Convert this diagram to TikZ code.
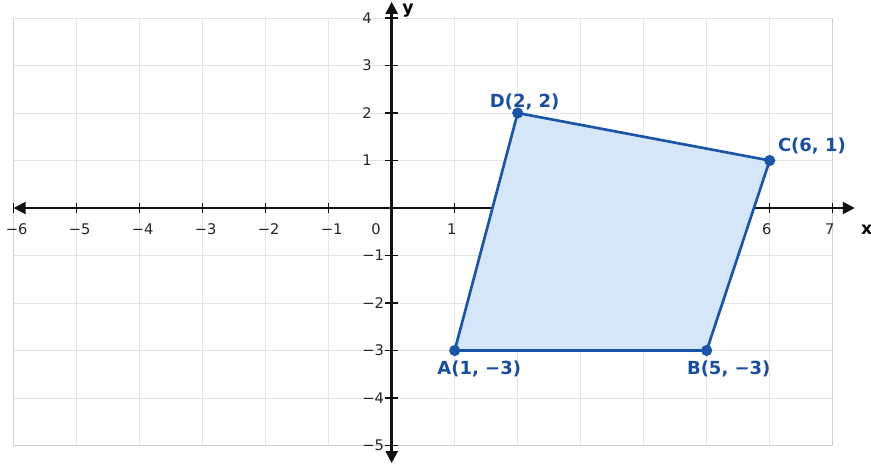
\documentclass[tikz,border=0pt]{standalone}
\usepackage{fontspec}
\setmainfont{DejaVu Sans}
\usetikzlibrary{arrows.meta}
\definecolor{cGrid}{HTML}{E4E4E4}
\definecolor{cFrame}{HTML}{D0D0D0}
\definecolor{cAxis}{HTML}{111111}
\definecolor{cEdge}{HTML}{1B55A8}
\definecolor{cFill}{HTML}{D6E6F9}
\definecolor{cText}{HTML}{1A4E9E}

\begin{document}
\begin{tikzpicture}[
  x=47.25pt,y=35.625pt,font=\fontsize{11}{13}\selectfont,
  axis/.style={line width=1.9pt,draw=cAxis,
               {Triangle[length=9pt,width=9pt]}-{Triangle[length=9pt,width=9pt]}},
  tick/.style={line width=0.9pt,draw=cAxis},
  xlbl/.style={anchor=center,inner sep=0pt,text=black!85},
  ylbl/.style={anchor=west,inner sep=0pt,text=black!85},
  axlbl/.style={inner sep=0pt,font=\fontsize{13}{15}\selectfont\bfseries},
  ptlbl/.style={inner sep=0pt,text=cText,font=\fontsize{13.5}{15}\selectfont\bfseries},
  quad/.style={draw=cEdge,fill=cFill,line width=2pt,line join=round},
  dot/.style={fill=cEdge}
]
\useasboundingbox (-6.217,-5.516) rectangle (7.608,4.379);

%======================= GRID =======================
\draw[cGrid,line width=0.7pt,step={(1,1)}] (-6,-5) grid (7,4);
\draw[cFrame,line width=0.8pt] (-6,4) -- (-6,-5) -- (7,-5) -- (7,4);

%======================= AXES =======================
\draw[axis] (-6,0) -- (7.35,0);
\draw[axis] (0,-5.37) -- (0,4.34);
\foreach \i in {-6,...,-1,1,2,...,7}
  \draw[tick] (\i,-0.11) -- (\i,0.11);
\foreach \j in {-5,...,-1,1,2,3,4}
  \draw[tick] (-0.1,\j) -- (0.1,\j);

\foreach \i in {-6,...,-1}
  \node[xlbl,xshift=2.2pt] (tx\i) at (\i,-0.44) {−\the\numexpr-\i\relax};
\foreach \i in {1,6,7}
  \node[xlbl,xshift=-2.2pt] (tx\i) at (\i,-0.44) {\i};
\node[xlbl] (tx0) at (-0.25,-0.44) {0};
\foreach \j in {1,2,3,4}
  \node[ylbl] (ty\j) at (-0.47,\j) {\j};
\foreach \j in {-1,...,-5}
  \node[ylbl] (ty\j) at (-0.47,\j) {−\the\numexpr-\j\relax};

\node[axlbl] (xname) at (7.54,-0.46) {x};
\node[axlbl] (yname) at (0.26,4.15) {y};

%======================= QUADRILATERAL =======================
\coordinate (A) at (1,-3);
\coordinate (B) at (5,-3);
\coordinate (C) at (6,1);
\coordinate (D) at (2,2);
\draw[quad] (A) -- (B) -- (C) -- (D) -- cycle;
\foreach \p in {A,B,C,D}
  \fill[dot] (\p) circle (4.2pt);

\node[ptlbl] (lA) at (1.39,-3.39) {A(1, −3)};
\node[ptlbl] (lB) at (5.35,-3.39) {B(5, −3)};
\node[ptlbl] (lC) at (6.67,1.31)  {C(6, 1)};
\node[ptlbl] (lD) at (2.11,2.24)  {D(2, 2)};

\end{tikzpicture}
\end{document}
